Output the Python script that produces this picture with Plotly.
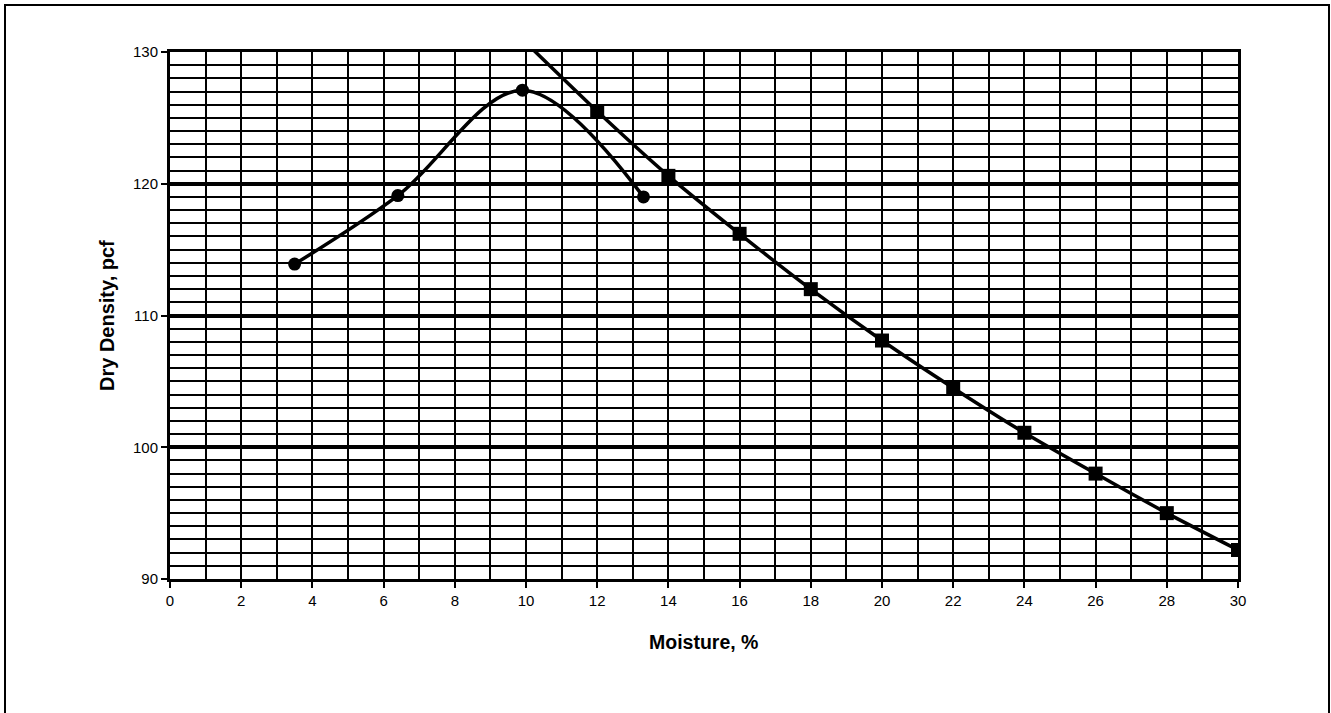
import plotly.graph_objects as go

# Compaction test points
moisture = [3.5, 6.4, 9.9, 13.3]
dry_density = [113.9, 119.1, 127.1, 119.0]

# Zero air voids line
zav_moisture = [10, 12, 14, 16, 18, 20, 22, 24, 26, 28, 30]
zav_density = [130.7, 125.5, 120.6, 116.2, 112.0, 108.1, 104.5, 101.1, 98.0, 95.0, 92.2]

x_ticks = list(range(0, 31, 2))
y_ticks = [90, 100, 110, 120, 130]

FONT = "Liberation Sans, Arial, sans-serif"

fig = go.Figure()
fig.add_trace(go.Scatter(
    x=moisture, y=dry_density, mode="lines+markers",
    line=dict(color="black", width=3.5, shape="spline", smoothing=1.0),
    marker=dict(symbol="circle", size=13, color="black"),
    showlegend=False, hoverinfo="x+y"))
fig.add_trace(go.Scatter(
    x=zav_moisture, y=zav_density, mode="lines+markers",
    line=dict(color="black", width=3.5, shape="spline", smoothing=0.5),
    marker=dict(symbol="square", size=14, color="black"),
    showlegend=False, hoverinfo="x+y"))

W, H = 1331, 713
L, T = 170, 52
R = W - 1238
B = H - 579
pw = W - L - R
ph = H - T - B


def px_x(page_x):
    return (page_x - L) / pw


def px_y(page_y):
    return (H - B - page_y) / ph


fig.update_layout(
    width=W, height=H,
    margin=dict(l=L, r=R, t=T, b=B, autoexpand=False),
    paper_bgcolor="white", plot_bgcolor="white",
    font=dict(family=FONT, color="black", size=15),
    xaxis=dict(range=[0, 30], tickvals=x_ticks, ticktext=[str(v) for v in x_ticks],
               showgrid=True, gridcolor="black", gridwidth=2,
               ticks="outside", ticklen=6, tickwidth=2, tickcolor="black",
               showline=True, linecolor="black", linewidth=3, mirror=True,
               zeroline=False, tickfont=dict(size=15, family=FONT),
               minor=dict(dtick=1, showgrid=True, gridcolor="black", gridwidth=2, ticks=""),
               fixedrange=True),
    yaxis=dict(range=[90, 130], tickvals=y_ticks, ticktext=[str(v) for v in y_ticks],
               showgrid=True, gridcolor="black", gridwidth=3.5,
               ticks="outside", ticklen=6, tickwidth=2, tickcolor="black",
               showline=True, linecolor="black", linewidth=3, mirror=True,
               zeroline=False, tickfont=dict(size=15, family=FONT),
               minor=dict(dtick=1, showgrid=True, gridcolor="black", gridwidth=1.8, ticks=""),
               fixedrange=True),
)

fig.add_annotation(text="<b>Moisture, %</b>", xref="paper", yref="paper",
                   x=px_x(703), y=px_y(642), showarrow=False,
                   font=dict(size=19.5, family=FONT), xanchor="center", yanchor="middle")
fig.add_annotation(text="<b>Dry Density, pcf</b>", xref="paper", yref="paper",
                   x=px_x(107), y=px_y(316), showarrow=False, textangle=-90,
                   font=dict(size=20, family=FONT), xanchor="center", yanchor="middle")

# outer chart border
fig.add_shape(type="rect", xref="paper", yref="paper",
              x0=px_x(5), x1=px_x(1329),
              y0=px_y(760), y1=px_y(5),
              line=dict(color="black", width=2), fillcolor="rgba(0,0,0,0)", layer="below")

fig.write_html("out.html",
               config={"displayModeBar": False},
               post_script="document.body.style.margin='0';document.body.style.overflow='hidden';")
